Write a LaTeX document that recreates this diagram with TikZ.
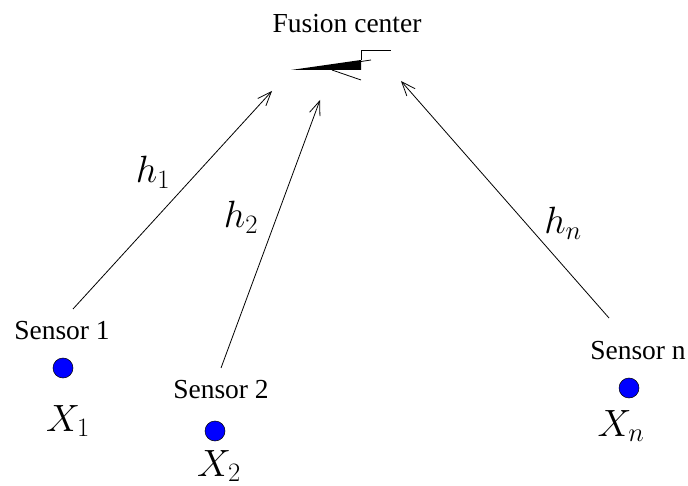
\documentclass[tikz,border=0pt]{standalone}
\usepackage{fix-cm}
\usepackage{fontspec}
\setmainfont{Liberation Serif}
\usetikzlibrary{arrows.meta,positioning}
\begin{document}
\begin{tikzpicture}[x=1pt,y=-1pt,
  sensor/.style={draw, fill=blue, circle, minimum size=20pt, inner sep=0pt, line width=0.5pt},
  lbl/.style={font=\fontsize{27.5}{30}\selectfont, inner sep=0pt},
  sym/.style={font=\fontsize{38}{42}\selectfont, inner sep=0pt},
  link/.style={line width=0.8pt, -{Straight Barb[length=14pt,width=11pt]}},
  ant/.style={line width=0.8pt}]
\useasboundingbox (0,0) rectangle (688,486);
% fusion center
\node[lbl] (fc) at (347,24) {Fusion center};
\coordinate (tip) at (291,70);
\coordinate (top) at (361,60);
\coordinate (bot) at (361,70);
\fill (tip) -- (top) -- (bot) -- cycle;
\draw[ant] (top) -- (361,50) -- (391,50);
\draw[ant] (361,61.5) -- (371,60);
\draw[ant] (332,70) -- (bot |- 0,80);
% sensors
\node[sensor] (s1) at (63,368) {};
\node[sensor] (s2) at (215,431) {};
\node[sensor] (sn) at (629,388) {};
\node[lbl] (l1) at (62,331) {Sensor 1};
\node[lbl] (l2) at (221,390) {Sensor 2};
\node[lbl] (ln) at (638,351) {Sensor n};
\node[sym] (x1) at (68,421) {$X_1$};
\node[sym] (x2) at (219,466) {$X_2$};
\node[sym] (xn) at (621,426) {$X_n$};
% links
\coordinate (a1) at (73,309);
\coordinate (b1) at (272,91);
\coordinate (a2) at (221,368);
\coordinate (b2) at (320,100);
\coordinate (an) at (609,318);
\coordinate (bn) at (401,81);
\draw[link] (a1) -- (b1);
\draw[link] (a2) -- (b2);
\draw[link] (an) -- (bn);
\node[sym] (h1) at (153,172) {$h_1$};
\node[sym] (h2) at (241,217) {$h_2$};
\node[sym] (hn) at (563,223) {$h_n$};
\end{tikzpicture}
\end{document}
